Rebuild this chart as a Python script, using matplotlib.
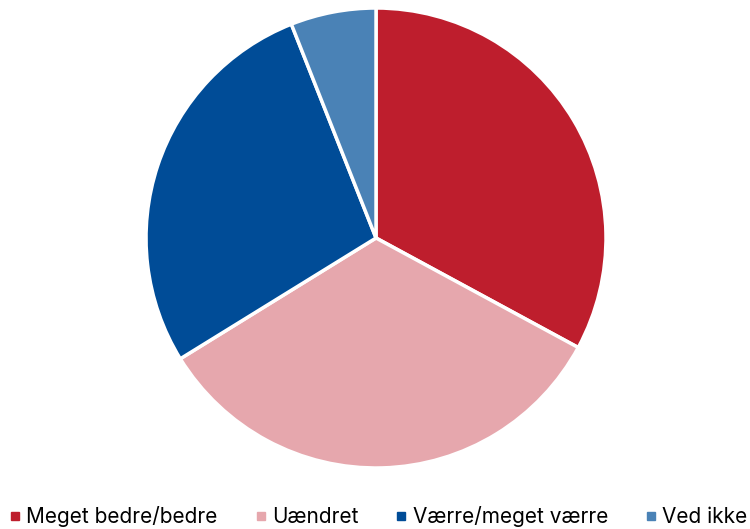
import matplotlib.pyplot as plt
from matplotlib.lines import Line2D

labels = ['Meget bedre/bedre', 'Uændret', 'Værre/meget værre', 'Ved ikke']
values = [32.9, 33.3, 27.8, 6.0]
colors = ['#BE1E2D', '#E6A7AD', '#004C97', '#4A82B6']

plt.rcParams['font.family'] = ['Inter', 'DejaVu Sans']

fig = plt.figure(figsize=(7.5, 5.29), dpi=100)
ax = fig.add_axes([0.1947, 0.1153, 0.6133, 0.8696])
ax.pie(values, colors=colors, startangle=90, counterclock=False,
       wedgeprops=dict(edgecolor='white', linewidth=2.5))
ax.set_xlim(-1, 1)
ax.set_ylim(-1, 1)
ax.set_aspect('equal')

handles = [Line2D([], [], marker='s', linestyle='none', markersize=5.5,
                  markerfacecolor=c, markeredgecolor=c) for c in colors]
fig.legend(handles, labels, loc='center left', bbox_to_anchor=(0.002, 0.023),
           ncol=4, frameon=False, fontsize=15.0, handlelength=0.5,
           handletextpad=0.3, columnspacing=1.8, borderaxespad=0)

fig.savefig('out.png', dpi=100)
